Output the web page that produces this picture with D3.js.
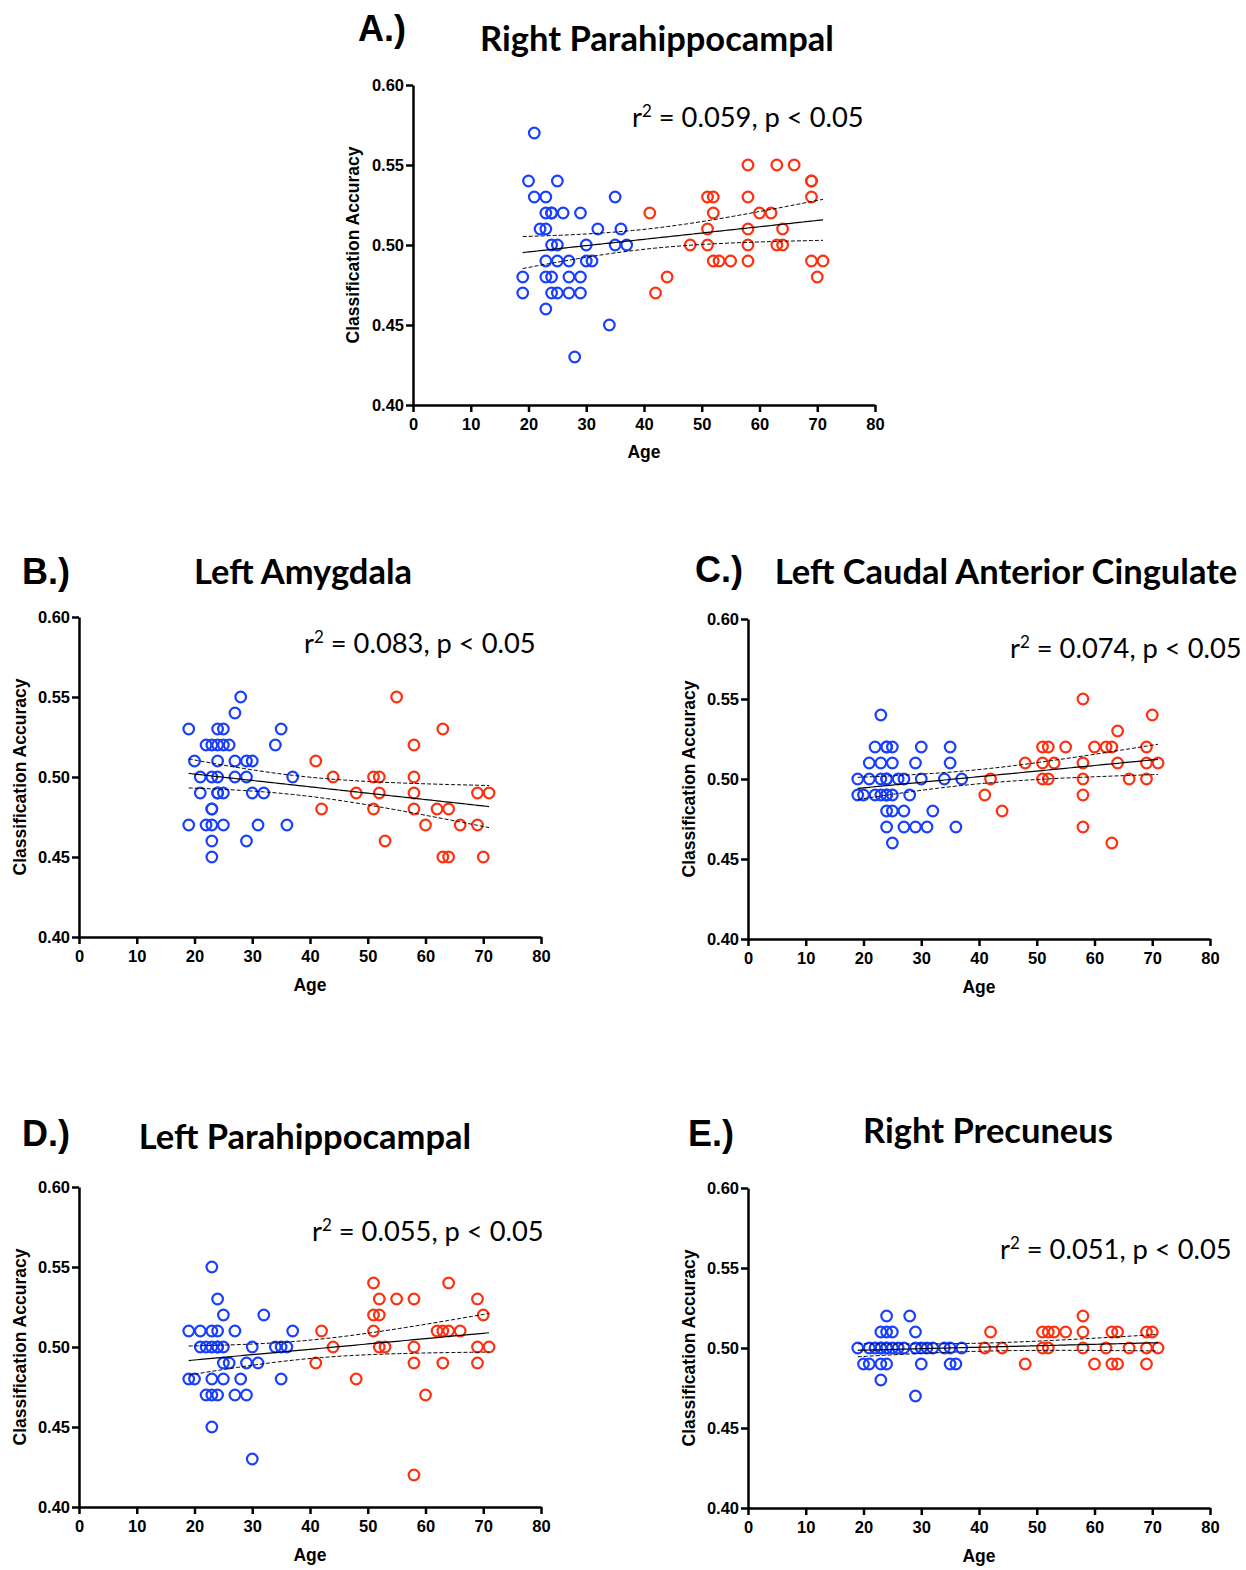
<!DOCTYPE html>
<html>
<head>
<meta charset="utf-8">
<script src="https://cdn.jsdelivr.net/npm/d3@7"></script>
<style>
body { margin: 0; background: #fff; }
.tick text { font-family: "Liberation Sans", Arial, sans-serif; font-weight: bold; font-size: 16.5px; fill: #000; }
.domain, .tick line { stroke: #000; stroke-width: 2.5; }
</style>
</head>
<body>
<script>
var w = 1246, h = 1570;

// age / classification accuracy, young (blue) and older (red) participants
var rphYoungAge = [21,20,25,21,23,35,23,24,24,26,29,22,23,32,36,24,25,30,35,37,23,25,27,30,31,19,23,24,27,29,19,24,25,27,29,23,34,28];
var rphYoungAcc = [.57,.54,.54,.53,.53,.53,.52,.52,.52,.52,.52,.51,.51,.51,.51,.50,.50,.50,.50,.50,.49,.49,.49,.49,.49,.48,.48,.48,.48,.48,.47,.47,.47,.47,.47,.46,.45,.43];
var rphOldAge = [41,42,44,48,51,51,51,52,52,52,53,55,58,58,58,58,58,60,62,63,63,64,64,66,69,69,69,69,70,71];
var rphOldAcc = [.52,.47,.48,.50,.53,.51,.50,.53,.52,.49,.49,.49,.55,.53,.51,.50,.49,.52,.52,.55,.50,.51,.50,.55,.54,.54,.53,.49,.48,.49];

var lamYoungAge = [28,27,19,24,25,35,22,23,24,25,26,34,20,24,27,29,30,21,23,24,27,29,37,21,24,24,25,30,32,23,23,19,22,23,25,31,36,23,29,23];
var lamYoungAcc = [.55,.54,.53,.53,.53,.53,.52,.52,.52,.52,.52,.52,.51,.51,.51,.51,.51,.50,.50,.50,.50,.50,.50,.49,.49,.49,.49,.49,.49,.48,.48,.47,.47,.47,.47,.47,.47,.46,.46,.45];
var lamOldAge = [55,63,58,41,44,51,52,58,48,52,58,69,71,42,51,58,62,64,60,66,69,53,63,64,70];
var lamOldAcc = [.55,.53,.52,.51,.50,.50,.50,.50,.49,.49,.49,.49,.49,.48,.48,.48,.48,.48,.47,.47,.47,.46,.45,.45,.45];

var lcaYoungAge = [23,22,24,24,25,30,35,21,23,25,29,35,19,21,23,24,24,26,27,30,34,37,19,20,22,23,24,24,25,28,24,25,27,32,24,27,29,31,36,25];
var lcaYoungAcc = [.54,.52,.52,.52,.52,.52,.52,.51,.51,.51,.51,.51,.50,.50,.50,.50,.50,.50,.50,.50,.50,.50,.49,.49,.49,.49,.49,.49,.49,.49,.48,.48,.48,.48,.47,.47,.47,.47,.47,.46];
var lcaOldAge = [58,70,64,51,52,55,60,62,63,69,48,51,53,58,64,69,71,42,51,52,58,66,69,41,58,44,58,63];
var lcaOldAcc = [.55,.54,.53,.52,.52,.52,.52,.52,.52,.52,.51,.51,.51,.51,.51,.51,.51,.50,.50,.50,.50,.50,.50,.49,.49,.48,.47,.46];

var lphYoungAge = [23,24,25,32,19,21,23,24,27,37,21,22,23,24,24,25,30,34,35,36,25,26,29,31,19,20,23,25,28,35,22,23,24,27,29,23,30];
var lphYoungAcc = [.55,.53,.52,.52,.51,.51,.51,.51,.51,.51,.50,.50,.50,.50,.50,.50,.50,.50,.50,.50,.49,.49,.49,.49,.48,.48,.48,.48,.48,.48,.47,.47,.47,.47,.47,.45,.43];
var lphOldAge = [51,64,52,55,58,69,51,52,70,42,51,62,63,64,66,44,52,53,58,69,71,41,58,63,69,48,60,58];
var lphOldAcc = [.54,.54,.53,.53,.53,.53,.52,.52,.52,.51,.51,.51,.51,.51,.51,.50,.50,.50,.50,.50,.50,.49,.49,.49,.49,.48,.47,.42];

var rpcYoungAge = [24,28,23,24,25,29,19,21,22,23,23,24,24,25,26,27,29,30,31,32,34,35,37,20,21,23,24,30,35,36,23,29];
var rpcYoungAcc = [.52,.52,.51,.51,.51,.51,.50,.50,.50,.50,.50,.50,.50,.50,.50,.50,.50,.50,.50,.50,.50,.50,.50,.49,.49,.49,.49,.49,.49,.49,.48,.47];
var rpcOldAge = [58,42,51,52,53,55,58,63,64,69,70,41,44,51,52,58,62,66,69,71,48,60,63,64,69];
var rpcOldAcc = [.52,.51,.51,.51,.51,.51,.51,.51,.51,.51,.51,.50,.50,.50,.50,.50,.50,.50,.50,.50,.49,.49,.49,.49,.49];

var letters = ["A.)", "B.)", "C.)", "D.)", "E.)"];
var titles = ["Right Parahippocampal", "Left Amygdala", "Left Caudal Anterior Cingulate", "Left Parahippocampal", "Right Precuneus"];
var r2Values = ["0.059", "0.083", "0.074", "0.055", "0.051"];
var ageTicks = [0, 10, 20, 30, 40, 50, 60, 70, 80];
var accTicks = [0.40, 0.45, 0.50, 0.55, 0.60];

var blue = "#1a40ff", red = "#ff3010";

// where each panel sits on the page
var panels = [
  {young: [rphYoungAge, rphYoungAcc], old: [rphOldAge, rphOldAcc], x0: 413, x1: 875, yT: 85, yB: 405,
   letter: [358, 41], title: [657, 51], r2: [632, 127], yLab: 353, ageY: 452},
  {young: [lamYoungAge, lamYoungAcc], old: [lamOldAge, lamOldAcc], x0: 79, x1: 541, yT: 617, yB: 937,
   letter: [22, 584], title: [303, 584], r2: [304, 653], yLab: 20, ageY: 985},
  {young: [lcaYoungAge, lcaYoungAcc], old: [lcaOldAge, lcaOldAcc], x0: 748, x1: 1210, yT: 619, yB: 939,
   letter: [695, 582], title: [1006, 584], r2: [1010, 658], yLab: 689, ageY: 987},
  {young: [lphYoungAge, lphYoungAcc], old: [lphOldAge, lphOldAcc], x0: 79, x1: 541, yT: 1187, yB: 1507,
   letter: [22, 1146], title: [305, 1149], r2: [312, 1241], yLab: 20, ageY: 1555},
  {young: [rpcYoungAge, rpcYoungAcc], old: [rpcOldAge, rpcOldAcc], x0: 748, x1: 1210, yT: 1188, yB: 1508,
   letter: [688, 1146], title: [988, 1143], r2: [1000, 1259], yLab: 689, ageY: 1556}
];

var svg = d3.select("body").append("svg")
  .attr("width", w)
  .attr("height", h);

function toPoints(pair) {
  return pair[0].map(function(a, i) { return {age: a, acc: pair[1][i]}; });
}

// least squares fit with 95% confidence band
function fit(pts) {
  var n = pts.length;
  var mx = d3.mean(pts, function(d) { return d.age; });
  var my = d3.mean(pts, function(d) { return d.acc; });
  var sxx = d3.sum(pts, function(d) { return (d.age - mx) * (d.age - mx); });
  var sxy = d3.sum(pts, function(d) { return (d.age - mx) * (d.acc - my); });
  var b = sxy / sxx, a = my - b * mx;
  var sse = d3.sum(pts, function(d) { var r = d.acc - (a + b * d.age); return r * r; });
  var s = Math.sqrt(sse / (n - 2));
  var t = 1.96 + 2.4 / (n - 2);
  var lo = d3.min(pts, function(d) { return d.age; }), hi = d3.max(pts, function(d) { return d.age; });
  return d3.range(lo, hi + 0.01, 0.5).map(function(x) {
    var yh = a + b * x;
    var se = s * Math.sqrt(1 / n + (x - mx) * (x - mx) / sxx);
    return {age: x, fit: yh, up: yh + t * se, dn: yh - t * se};
  });
}

panels.forEach(function(p, i) {
  var x = d3.scaleLinear().domain([0, 80]).range([p.x0, p.x1]);
  var y = d3.scaleLinear().domain([0.40, 0.60]).range([p.yB, p.yT]);
  var g = svg.append("g");

  g.append("text")
    .attr("x", p.letter[0]).attr("y", p.letter[1])
    .style("font-family", "Liberation Sans, Arial, sans-serif")
    .style("font-weight", "bold").style("font-size", "36px")
    .text(letters[i]);

  g.append("text")
    .attr("x", p.title[0]).attr("y", p.title[1])
    .attr("text-anchor", "middle")
    .style("font-family", "Lato, sans-serif")
    .style("font-weight", "bold").style("font-size", "34.5px")
    .text(titles[i]);

  var r2 = g.append("text")
    .attr("x", p.r2[0]).attr("y", p.r2[1])
    .style("font-family", "Lato, sans-serif")
    .style("font-size", "27.3px");
  r2.append("tspan").text("r");
  r2.append("tspan").attr("dy", -10).style("font-size", "17px").text("2");
  r2.append("tspan").attr("dy", 10).text(" = " + r2Values[i] + ", p < 0.05");

  g.append("g")
    .attr("transform", "translate(0," + p.yB + ")")
    .call(d3.axisBottom(x).tickValues(ageTicks).tickSize(7).tickSizeOuter(0).tickPadding(6));

  g.append("g")
    .attr("transform", "translate(" + p.x0 + ",0)")
    .call(d3.axisLeft(y).tickValues(accTicks).tickSize(7).tickSizeOuter(0).tickPadding(2)
      .tickFormat(d3.format(".2f")));

  g.append("text")
    .attr("transform", "translate(" + p.yLab + "," + ((p.yT + p.yB) / 2) + ") rotate(-90)")
    .attr("text-anchor", "middle").attr("dominant-baseline", "central")
    .style("font-family", "Liberation Sans, Arial, sans-serif")
    .style("font-weight", "bold").style("font-size", "17.5px")
    .text("Classification Accuracy");

  g.append("text")
    .attr("x", (p.x0 + p.x1) / 2).attr("y", p.ageY)
    .attr("text-anchor", "middle").attr("dominant-baseline", "central")
    .style("font-family", "Liberation Sans, Arial, sans-serif")
    .style("font-weight", "bold").style("font-size", "17.5px")
    .text("Age");

  var young = toPoints(p.young), old = toPoints(p.old);

  g.selectAll("circle.young")
    .data(young).enter().append("circle")
    .attr("class", "young")
    .attr("cx", function(d) { return x(d.age); })
    .attr("cy", function(d) { return y(d.acc); })
    .attr("r", 5.3)
    .style("fill", "none").style("stroke", blue).style("stroke-width", 2.2);

  g.selectAll("circle.old")
    .data(old).enter().append("circle")
    .attr("class", "old")
    .attr("cx", function(d) { return x(d.age); })
    .attr("cy", function(d) { return y(d.acc); })
    .attr("r", 5.3)
    .style("fill", "none").style("stroke", red).style("stroke-width", 2.2);

  var rows = fit(young.concat(old));
  ["fit", "up", "dn"].forEach(function(k) {
    g.append("path")
      .datum(rows)
      .attr("d", d3.line().x(function(d) { return x(d.age); }).y(function(d) { return y(d[k]); }))
      .style("fill", "none").style("stroke", "#000")
      .style("stroke-width", k == "fit" ? 1.2 : 1)
      .style("stroke-dasharray", k == "fit" ? null : "4,2");
  });
});
</script>
</body>
</html>
